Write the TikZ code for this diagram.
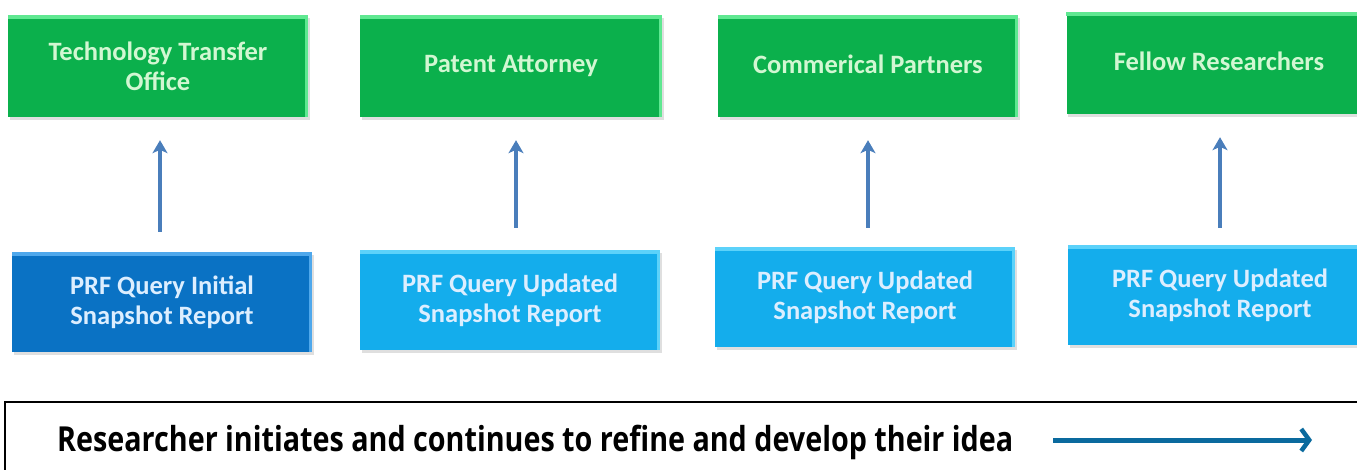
\documentclass[tikz,border=0pt]{standalone}
\usepackage{fontspec}
\setmainfont{Carlito}
\newfontfamily\boldsans{Open Sans}
\usetikzlibrary{arrows.meta,shadows}
\definecolor{gfill}{HTML}{0BB04C}
\definecolor{gtop}{HTML}{5FE891}
\definecolor{gtext}{HTML}{D2F7D2}
\definecolor{dbfill}{HTML}{0A72C4}
\definecolor{dbtop}{HTML}{4FA8EC}
\definecolor{lbfill}{HTML}{14ADEC}
\definecolor{lbtop}{HTML}{5CD2FA}
\definecolor{btext}{HTML}{DCEEFF}
\definecolor{uparr}{HTML}{4A7EBB}
\definecolor{timearr}{HTML}{0A6A9E}
\tikzset{
  box/.style={rectangle, minimum height=100pt, align=center, font=\fontsize{26.5}{30}\selectfont\bfseries, inner sep=0pt,
    drop shadow={opacity=0.25, shadow xshift=1.5pt, shadow yshift=-2.5pt}},
  greenbox/.style={box, fill=gfill, text=gtext, minimum height=102pt},
  darkbox/.style={box, fill=dbfill, text=btext},
  lightbox/.style={box, fill=lbfill, text=btext},
  up/.style={draw=uparr, line width=3.2pt, -{Stealth[length=13pt,width=15pt,inset=3.5pt]}},
  timeline/.style={draw=timearr, line width=5pt, -{Straight Barb[length=8pt,width=22pt,line width=4.5pt]}},
  frame/.style={draw=black, line width=2pt},
}
\newcommand{\topedge}[2]{\fill[#2] (#1.north west) rectangle ([yshift=-4pt]#1.north east);
  \fill[#2] ([xshift=-3pt]#1.north east) rectangle (#1.south east);}
\begin{document}
\begin{tikzpicture}[x=1pt,y=-1pt]
\useasboundingbox (0,0) rectangle (1357,469);
\begin{scope}
\clip (0,0) rectangle (1357,469);
% green boxes
\node[greenbox, minimum width=300pt] (g1) at (158,66) {Technology Transfer\\Office};
\node[greenbox, minimum width=302pt] (g2) at (511,66) {\raisebox{3pt}{Patent Attorney}};
\node[greenbox, minimum width=300pt] (g3) at (868,66) {\raisebox{3pt}{Commerical Partners}};
\node[greenbox, minimum width=305pt] (g4) at (1219,63) {\raisebox{3pt}{Fellow Researchers}};
\topedge{g1}{gtop}\topedge{g2}{gtop}\topedge{g3}{gtop}\topedge{g4}{gtop}
% blue boxes
\node[darkbox, minimum width=300pt] (b1) at (162,302) {\raisebox{3pt}{PRF Query Initial}\\\raisebox{3pt}{Snapshot Report}};
\node[lightbox, minimum width=300pt] (b2) at (510,300) {\raisebox{3pt}{PRF Query Updated}\\\raisebox{3pt}{Snapshot Report}};
\node[lightbox, minimum width=300pt] (b3) at (865,297) {\raisebox{3pt}{PRF Query Updated}\\\raisebox{3pt}{Snapshot Report}};
\node[lightbox, minimum width=304pt] (b4) at (1220,295) {\raisebox{3pt}{PRF Query Updated}\\\raisebox{3pt}{Snapshot Report}};
\topedge{b1}{dbtop}\topedge{b2}{lbtop}\topedge{b3}{lbtop}\topedge{b4}{lbtop}
% arrows
\draw[up, shorten <=20pt, shorten >=23pt] ([xshift=-2pt]b1.north) -- ([xshift=-2pt]b1.north |- g1.south);
\draw[up, shorten <=22pt, shorten >=23pt] ([xshift=6pt]b2.north) -- ([xshift=6pt]b2.north |- g2.south);
\draw[up, shorten <=19pt, shorten >=23pt] ([xshift=3pt]b3.north) -- ([xshift=3pt]b3.north |- g3.south);
\draw[up, shorten <=17pt, shorten >=23pt] (b4.north) -- (b4.north |- g4.south);
% bottom frame
\draw[frame] (5,402) rectangle (1375,485);
\node[anchor=base west, inner sep=0pt, font=\boldsans\bfseries] (t) at (57,451) {\resizebox{956pt}{!}{\scalebox{1}[1.2]{Researcher initiates and continues to refine and develop their idea}}};
\coordinate (ta) at (1053,440);
\coordinate (tb) at (1312,440);
\draw[timeline] (ta) -- (tb);
\end{scope}
\end{tikzpicture}
\end{document}
